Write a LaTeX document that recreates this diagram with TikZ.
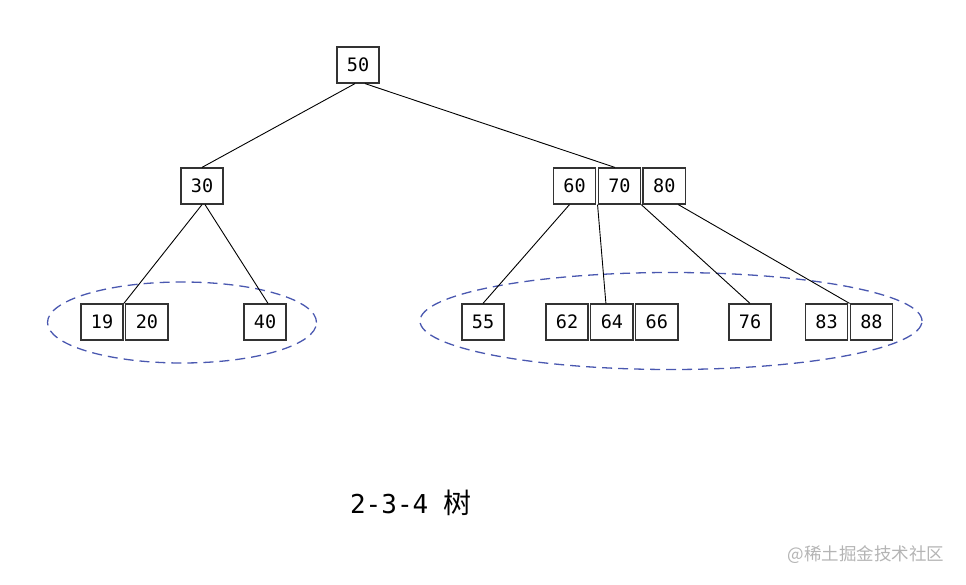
\documentclass[tikz,border=0pt]{standalone}
\usepackage{fontspec}
\setmonofont{DejaVu Sans Mono}
\newfontfamily\cjk{Noto Sans CJK SC}
\usepackage{tikz}
\usetikzlibrary{shapes.geometric, positioning}

\definecolor{groupblue}{HTML}{4A58B0}
\definecolor{markgray}{HTML}{B4B4B4}

\begin{document}
\begin{tikzpicture}[
    x=1pt, y=-1pt,
    node distance=0pt and 1.2pt,
    key/.style={draw=black!80, line width=1.4pt, minimum width=42.3pt, minimum height=35.8pt, inner sep=0pt, font=\ttfamily\fontsize{18.5}{20}\selectfont},
    group/.style={draw=groupblue, ellipse, line width=1.3pt, dash pattern=on 10pt off 6pt, inner sep=0pt},
    link/.style={line width=0.9pt}
]
\useasboundingbox (0,0) rectangle (966,585);

% groups of leaves
\node[group, minimum width=269pt, minimum height=81pt] (leftgroup) at (182,322.5) {};
\node[group, minimum width=502pt, minimum height=97pt] (rightgroup) at (671,321) {};

% root and middle level
\node[key] (n50) at (358,65) {50};
\node[key] (n30) at (202,186) {30};
\node[key] (n60) at (574.5,186) {60};
\node[key, right=of n60] (n70) {70};
\node[key, right=of n70] (n80) {80};

% leaves
\node[key] (n19) at (102,322) {19};
\node[key, right=of n19] (n20) {20};
\node[key] (n40) at (265,322) {40};
\node[key] (n55) at (483,322) {55};
\node[key] (n62) at (567,322) {62};
\node[key, right=of n62] (n64) {64};
\node[key, right=of n64] (n66) {66};
\node[key] (n76) at (750,322) {76};
\node[key] (n83) at (826.5,322) {83};
\node[key, right=of n83] (n88) {88};

\draw[link] ([xshift=-3pt]n50.south) -- (n30.north);
\draw[link] ([xshift=7pt]n50.south) -- ([xshift=-4.5pt]n70.north);
\draw[link] (n30.south) -- (n19.north east);
\draw[link] ([xshift=3pt]n30.south) -- ([xshift=3pt]n40.north);
\draw[link] ([xshift=-5pt]n60.south) -- (n55.north);
\draw[link] (n70.south west) -- ([xshift=-6pt]n64.north);
\draw[link] (n70.south east) -- (n76.north);
\draw[link] ([xshift=14pt]n80.south) -- (n88.north west);

\node[inner sep=0pt] (title) at (411,503) {{\ttfamily\fontsize{26}{30}\selectfont 2-3-4 }{\cjk\fontsize{28}{30}\selectfont 树}};
\node[font=\cjk\fontsize{17.5}{20}\selectfont, text=markgray] (mark) at (866,555) {@稀土掘金技术社区};

\end{tikzpicture}
\end{document}
